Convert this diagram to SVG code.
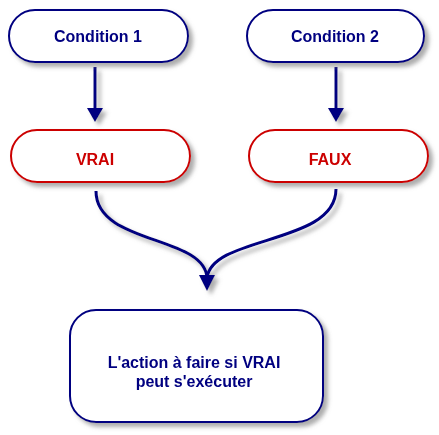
<svg xmlns="http://www.w3.org/2000/svg" width="439" height="435" viewBox="0 0 439 435">
<defs>
<filter id="sh" x="-20%" y="-20%" width="140%" height="160%">
<feDropShadow dx="4" dy="4" stdDeviation="2" flood-color="#777" flood-opacity="0.6"/>
</filter>
</defs>
<style>
.blue{fill:#fff;stroke:#000080;stroke-width:2}
.red{fill:#fff;stroke:#cc0000;stroke-width:2}
text{font-family:"Liberation Sans",Arial,sans-serif;font-size:16px;font-weight:bold;text-anchor:middle}
.tb{fill:#000080}
.tr{fill:#cc0000}
.ln{fill:none;stroke:#000080;stroke-width:3}
.ah{fill:#000080}
</style>
<rect width="439" height="435" fill="#fff"/>
<g id="connectors" filter="url(#sh)">
<path class="ln" d="M95,67 V110"/>
<polygon class="ah" points="87,108 103,108 95,122"/>
<path class="ln" d="M336,67 V110"/>
<polygon class="ah" points="328,108 344,108 336,122"/>
<path class="ln" d="M96,191 C96,245 205,235 207,278"/>
<path class="ln" d="M336,189 C336,245 212,235 207,278"/>
<polygon class="ah" points="199,275 215,275 207,291"/>
</g>
<g id="cond1" filter="url(#sh)">
<rect class="blue" x="9" y="10" width="179" height="52" rx="26"/>
<text class="tb" x="98" y="42">Condition 1</text>
</g>
<g id="cond2" filter="url(#sh)">
<rect class="blue" x="247" y="10" width="177" height="52" rx="26"/>
<text class="tb" x="335" y="42">Condition 2</text>
</g>
<g id="vrai" filter="url(#sh)">
<rect class="red" x="11" y="130" width="179" height="52" rx="26"/>
<text class="tr" x="95" y="165">VRAI</text>
</g>
<g id="faux" filter="url(#sh)">
<rect class="red" x="249" y="130" width="179" height="52" rx="26"/>
<text class="tr" x="330" y="165">FAUX</text>
</g>
<g id="action" filter="url(#sh)">
<rect class="blue" x="70" y="310" width="253" height="112" rx="26"/>
<text class="tb" x="194" y="368">L'action à faire si VRAI</text>
<text class="tb" x="194" y="387">peut s'exécuter</text>
</g>
</svg>
